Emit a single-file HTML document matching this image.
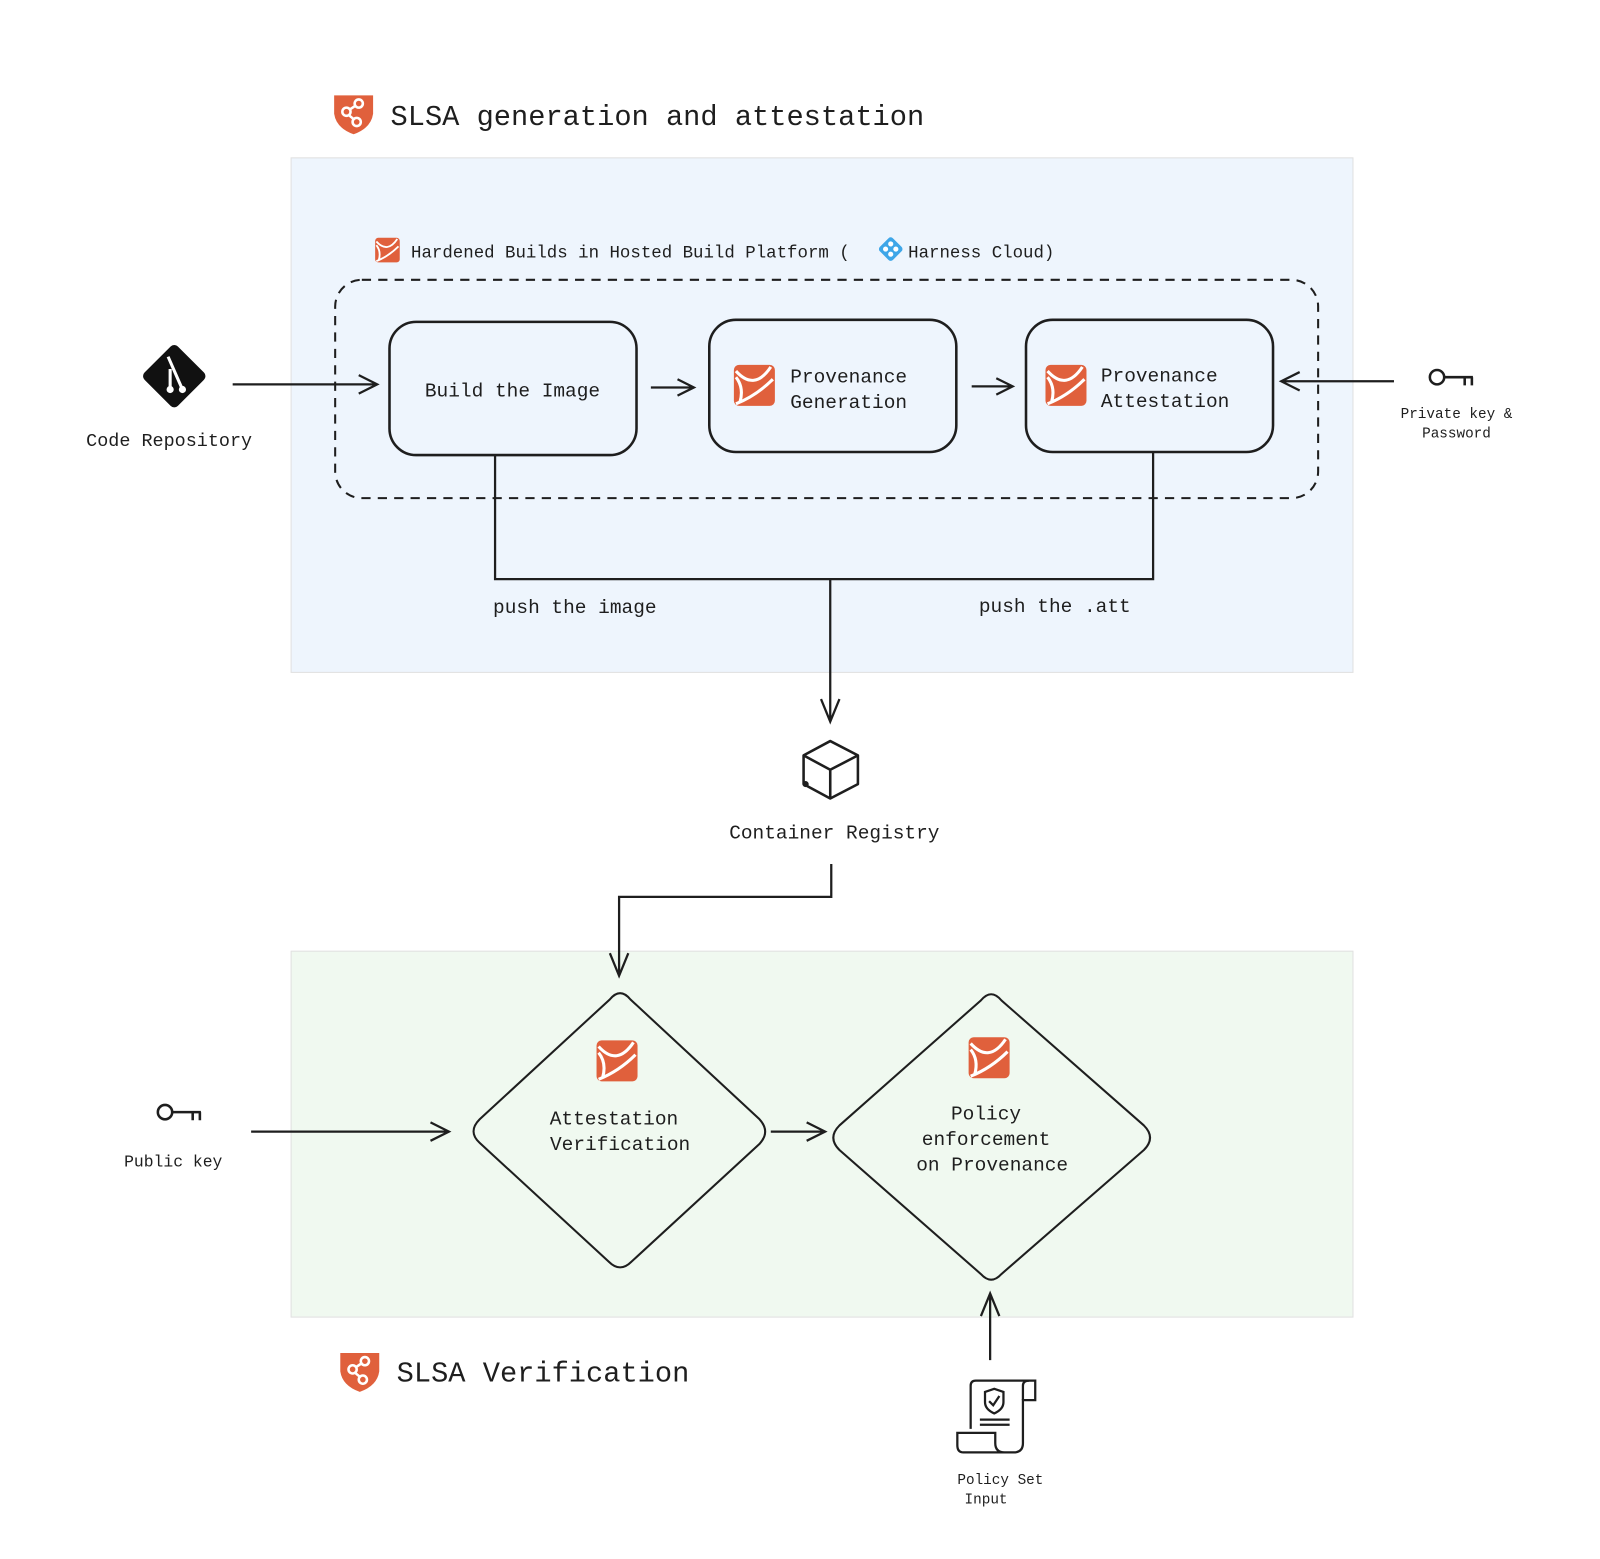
<!DOCTYPE html>
<html><head><meta charset="utf-8"><style>
html,body{margin:0;padding:0;background:#fff;}
svg{display:block}
text{font-family:"Liberation Mono","DejaVu Sans Mono",monospace;fill:#1e1e1e}
</style></head><body>
<svg width="1600" height="1559" viewBox="0 0 1561 1521" xmlns="http://www.w3.org/2000/svg">
<defs>
<g id="ico">
<rect x="0" y="0" width="40" height="40" rx="5" fill="#e0603c"/>
<path d="M2 6 Q20 26 36 2 M2 38 Q22 30 38 14 M6 36 Q10 22 2 12" stroke="#fff" stroke-width="3" fill="none"/>
</g>
<g id="shield">
<path d="M0 2 L38 2 L38 20 Q36 34 19 40 Q2 34 0 20 Z" fill="#e0603c"/>
<circle cx="24" cy="10" r="4" fill="none" stroke="#fff" stroke-width="2.5"/>
<circle cx="12" cy="18" r="4" fill="none" stroke="#fff" stroke-width="2.5"/>
<circle cx="22" cy="28" r="4" fill="none" stroke="#fff" stroke-width="2.5"/>
<path d="M15 16 L21 12 M14 21 L20 26" stroke="#fff" stroke-width="2.5"/>
</g>
<g id="key">
<circle cx="8" cy="0" r="7" fill="none" stroke="#1e1e1e" stroke-width="2.5"/>
<path d="M15 0 H43 M35 0 V8 M42 0 V8" stroke="#1e1e1e" stroke-width="2.5" fill="none"/>
</g>
</defs>

<use href="#shield" x="326" y="91"/>
<text x="381" y="122" font-size="28">SLSA generation and attestation</text>

<rect x="284" y="154" width="1036" height="502" fill="#eef5fd" stroke="#e0e0e0"/>
<rect x="284" y="928" width="1036" height="357" fill="#f0f9f0" stroke="#e0e0e0"/>
<use href="#ico" transform="translate(366,232) scale(0.6)"/>
<text x="401" y="251" font-size="17">Hardened Builds in Hosted Build Platform (</text>
<g transform="translate(869,243)">
<rect x="-9" y="-9" width="18" height="18" transform="rotate(45)" rx="3" fill="#3ea6e8"/>
<circle cx="0" cy="-5" r="2.5" fill="#fff"/><circle cx="0" cy="5" r="2.5" fill="#fff"/>
<circle cx="-5" cy="0" r="2.5" fill="#fff"/><circle cx="5" cy="0" r="2.5" fill="#fff"/>
</g>
<text x="886" y="251" font-size="17">Harness Cloud)</text>

<rect x="327" y="273" width="959" height="213" rx="26" fill="none" stroke="#1e1e1e" stroke-width="2" stroke-dasharray="9,7"/>

<g fill="#eef5fd" stroke="#1e1e1e" stroke-width="2.5">
<rect x="380" y="314" width="241" height="130" rx="26"/>
<rect x="692" y="312" width="241" height="129" rx="26"/>
<rect x="1001" y="312" width="241" height="129" rx="26"/>
</g>
<text x="500" y="387" font-size="19" text-anchor="middle">Build the Image</text>
<use href="#ico" x="716" y="356"/>
<text x="771" y="373" font-size="19">Provenance</text>
<text x="771" y="398" font-size="19">Generation</text>
<use href="#ico" x="1020" y="356"/>
<text x="1074" y="372" font-size="19">Provenance</text>
<text x="1074" y="397" font-size="19">Attestation</text>

<g stroke="#1e1e1e" stroke-width="2.2" fill="none">
<path d="M227 375 H368 M350 366 L368 375 L350 384"/>
<path d="M635 378 H677 M661 370 L677 378 L661 386"/>
<path d="M948 377 H988 M972 369 L988 377 L972 385"/>
<path d="M1360 372 H1250 M1268 363 L1250 372 L1268 381"/>
<path d="M483 444 V565 H1125 V440"/>
<path d="M810 565 V704 M801 682 L810 704 L819 682"/>
<path d="M811 843 V875 H604 V952 M595 930 L604 952 L613 930"/>
<path d="M245 1104 H438 M420 1095 L438 1104 L420 1113"/>
<path d="M752 1104 H805 M787 1095 L805 1104 L787 1113"/>
<path d="M966 1327 V1262 M957 1284 L966 1262 L975 1284"/>
</g>

<!-- code repo -->
<rect x="147" y="344" width="46" height="46" rx="5" transform="rotate(45 170 367)" fill="#111"/>
<path d="M164 348 L178 380 M166 360 L166 378" stroke="#fff" stroke-width="3"/>
<circle cx="166" cy="380" r="3.5" fill="#fff"/><circle cx="178" cy="380" r="3.5" fill="#fff"/>
<text x="165" y="435" font-size="18" text-anchor="middle">Code Repository</text>

<use href="#key" x="1394" y="368"/>
<text x="1421" y="408" font-size="14" text-anchor="middle">Private key &amp;</text>
<text x="1421" y="427" font-size="14" text-anchor="middle">Password</text>

<text x="481" y="598" font-size="19">push the image</text>
<text x="955" y="597" font-size="19">push the .att</text>

<!-- cube -->
<g stroke="#1e1e1e" stroke-width="2.5" fill="none" stroke-linejoin="round">
<path d="M810 723 L837 737 L837 765 L810 779 L784 765 L784 737 Z"/>
<path d="M784 737 L810 751 L837 737 M810 751 V779"/>
</g>
<circle cx="786" cy="765" r="3" fill="#1e1e1e"/>
<text x="814" y="818" font-size="19" text-anchor="middle">Container Registry</text>

<g fill="#f0f9f0" stroke="#1e1e1e" stroke-width="2">
<path d="M595 975 Q605 963 615 975 L741 1092 Q752 1104 741 1116 L616 1231 Q605 1242 594 1231 L468 1115 Q456 1104 468 1092 Z"/>
<path d="M957 976 Q967 964 977 976 L1116 1098 Q1128 1110 1116 1122 L977 1243 Q967 1254 957 1243 L819 1122 Q807 1110 819 1098 Z"/>
</g>
<use href="#ico" x="582" y="1015"/>
<use href="#ico" x="945" y="1012"/>
<text x="599" y="1097" font-size="19" text-anchor="middle">Attestation</text>
<text x="605" y="1122" font-size="19" text-anchor="middle">Verification</text>
<text x="962" y="1092" font-size="19" text-anchor="middle">Policy</text>
<text x="962" y="1117" font-size="19" text-anchor="middle">enforcement</text>
<text x="968" y="1142" font-size="19" text-anchor="middle">on Provenance</text>

<use href="#key" x="153" y="1085"/>
<text x="169" y="1138" font-size="16" text-anchor="middle">Public key</text>

<use href="#shield" x="332" y="1318"/>
<text x="387" y="1348" font-size="28">SLSA Verification</text>

<!-- policy doc -->
<g stroke="#1e1e1e" stroke-width="2.2" fill="none">
<path d="M947 1394 V1352 Q947 1347 952 1347 H1010 V1366 H998 V1408 Q998 1417 989 1417 H940 Q934 1417 934 1410 V1398 H971 V1408 Q971 1417 980 1417"/>
<path d="M998 1366 V1352 Q998 1347 1004 1347"/>
<path d="M961 1358 L970 1355 L979 1358 V1368 Q979 1375 970 1379 Q961 1375 961 1368 Z"/>
<path d="M965 1367 L969 1371 L975 1362"/>
<path d="M956 1385 H985 M956 1390 H985"/>
</g>
<text x="976" y="1448" font-size="14" text-anchor="middle">Policy Set</text>
<text x="962" y="1467" font-size="14" text-anchor="middle">Input</text>
</svg>
</body></html>
